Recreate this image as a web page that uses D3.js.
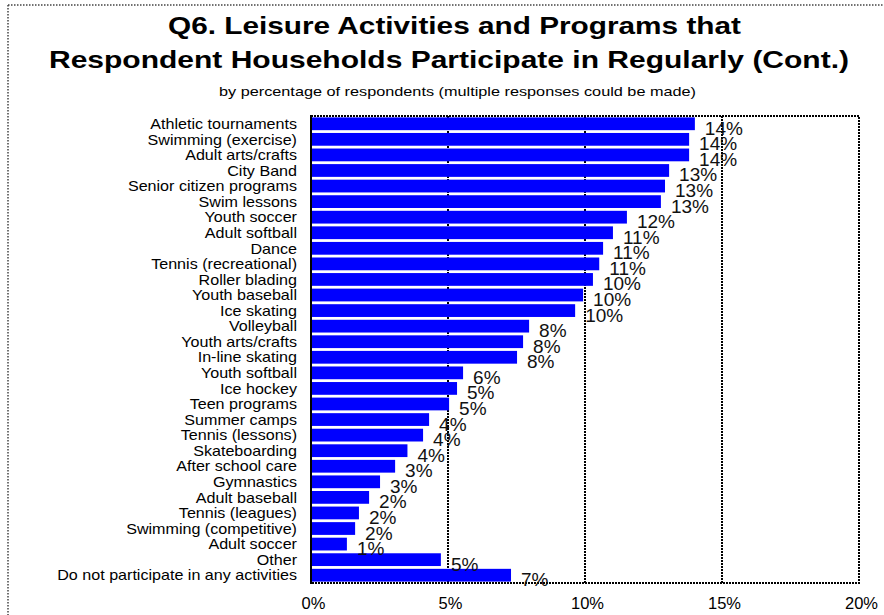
<!DOCTYPE html>
<html>
<head>
<meta charset="utf-8">
<script src="https://cdn.jsdelivr.net/npm/d3@7"></script>
<style>
  html, body { margin: 0; padding: 0; background: #fff; }
  svg { display: block; font-family: "Liberation Sans", Arial, sans-serif; }
</style>
</head>
<body>
<svg id="chart" width="884" height="615"></svg>
<script>
const titleLines = ["Q6. Leisure Activities and Programs that",
                    "Respondent Households Participate in Regularly (Cont.)"];
const subtitle = "by percentage of respondents (multiple responses could be made)";

const categories = [
  "Athletic tournaments", "Swimming (exercise)", "Adult arts/crafts", "City Band",
  "Senior citizen programs", "Swim lessons", "Youth soccer", "Adult softball", "Dance",
  "Tennis (recreational)", "Roller blading", "Youth baseball", "Ice skating", "Volleyball",
  "Youth arts/crafts", "In-line skating", "Youth softball", "Ice hockey", "Teen programs",
  "Summer camps", "Tennis (lessons)", "Skateboarding", "After school care", "Gymnastics",
  "Adult baseball", "Tennis (leagues)", "Swimming (competitive)", "Adult soccer", "Other",
  "Do not participate in any activities"
];
const values = [
  0.1401, 0.1380, 0.1380, 0.1307, 0.1292, 0.1277, 0.1153, 0.1102, 0.1066, 0.1052,
  0.1029, 0.0993, 0.0964, 0.0796, 0.0774, 0.0752, 0.0555, 0.0533, 0.0504, 0.0431,
  0.0409, 0.0352, 0.0307, 0.0252, 0.0212, 0.0175, 0.0161, 0.0131, 0.0474, 0.0730
];
const xTicks = [0, 0.05, 0.10, 0.15, 0.20];

const data = categories.map((c, i) => ({ cat: c, val: values[i] }));
const svg = d3.select("#chart");

const pL = 311, pR = 859, pT = 116, pB = 583;
const x = d3.scaleLinear().domain([0, 0.2]).range([pL, pR]);
const y = d3.scaleBand().domain(categories).range([pT, pB]).paddingInner(0.18).paddingOuter(0.09);
const pct = d3.format(".0%");

// outer dotted frame (top and left)
svg.append("line").attr("x1", 8).attr("x2", 884).attr("y1", 5).attr("y2", 5)
  .attr("stroke", "#444").attr("stroke-width", 1.5).attr("stroke-dasharray", "1.5,1.5");
svg.append("line").attr("x1", 8).attr("x2", 8).attr("y1", 5).attr("y2", 615)
  .attr("stroke", "#444").attr("stroke-width", 1.5).attr("stroke-dasharray", "1.5,1.5");

// titles
const tWidths = [573, 800];
const tCenters = [454.5, 449];
const tBase = [34, 67.5];
titleLines.forEach((t, i) => {
  svg.append("text").attr("x", tCenters[i]).attr("y", tBase[i])
    .attr("text-anchor", "middle").attr("font-size", 24.5).attr("font-weight", "bold")
    .attr("textLength", tWidths[i]).attr("lengthAdjust", "spacingAndGlyphs")
    .attr("fill", "#000").text(t);
});
svg.append("text").attr("x", 457.5).attr("y", 96).attr("text-anchor", "middle")
  .attr("font-size", 13).attr("textLength", 477).attr("lengthAdjust", "spacingAndGlyphs")
  .attr("fill", "#000").text(subtitle);

// gridlines
const grid = svg.append("g");
grid.selectAll("line.g").data(xTicks.filter(d => d > 0 && d < 0.2)).join("line")
  .attr("x1", d => x(d)).attr("x2", d => x(d)).attr("y1", pT).attr("y2", pB)
  .attr("stroke", "#000").attr("stroke-width", 2).attr("stroke-dasharray", "2,1");

// bars
svg.append("g").selectAll("rect").data(data).join("rect")
  .attr("x", x(0)).attr("y", d => y(d.cat))
  .attr("width", d => x(d.val) - x(0)).attr("height", y.bandwidth())
  .attr("fill", "#0000ff");

// plot frame (top, right, bottom dotted; left solid)
const frame = svg.append("g").attr("fill", "none").attr("stroke", "#000").attr("stroke-width", 2);
frame.append("path").attr("d", `M${pL},${pT}H${pR}V${pB}H${pL}`).attr("stroke-dasharray", "2,1");
frame.append("line").attr("x1", pL).attr("x2", pL).attr("y1", pT - 1).attr("y2", pB + 1);

// category labels (slightly wide glyphs, as in the reference)
svg.append("g").selectAll("text").data(data).join("text")
  .attr("x", 297).attr("y", d => y(d.cat) + y.bandwidth() / 2 + 5.2)
  .attr("text-anchor", "end").attr("font-size", 14.5).attr("fill", "#000")
  .text(d => d.cat)
  .each(function () {
    const w = this.getComputedTextLength();
    d3.select(this).attr("textLength", w * 1.11).attr("lengthAdjust", "spacingAndGlyphs");
  });

// value labels
svg.append("g").selectAll("text").data(data).join("text")
  .attr("x", d => x(d.val) + 10).attr("y", d => y(d.cat) + y.bandwidth() / 2 + 11)
  .attr("font-size", 19).attr("fill", "#111")
  .text(d => pct(d.val));

// x axis tick labels
const xAxis = d3.axisBottom(x).tickValues(xTicks).tickFormat(pct).tickSize(0).tickPadding(0);
const gx = svg.append("g").attr("transform", `translate(2,${pB})`).call(xAxis);
gx.select(".domain").remove();
gx.selectAll("text").attr("font-size", 16.5).attr("font-family", "Liberation Sans, Arial, sans-serif")
  .attr("fill", "#000").attr("dy", null).attr("y", 26);
</script>
</body>
</html>
